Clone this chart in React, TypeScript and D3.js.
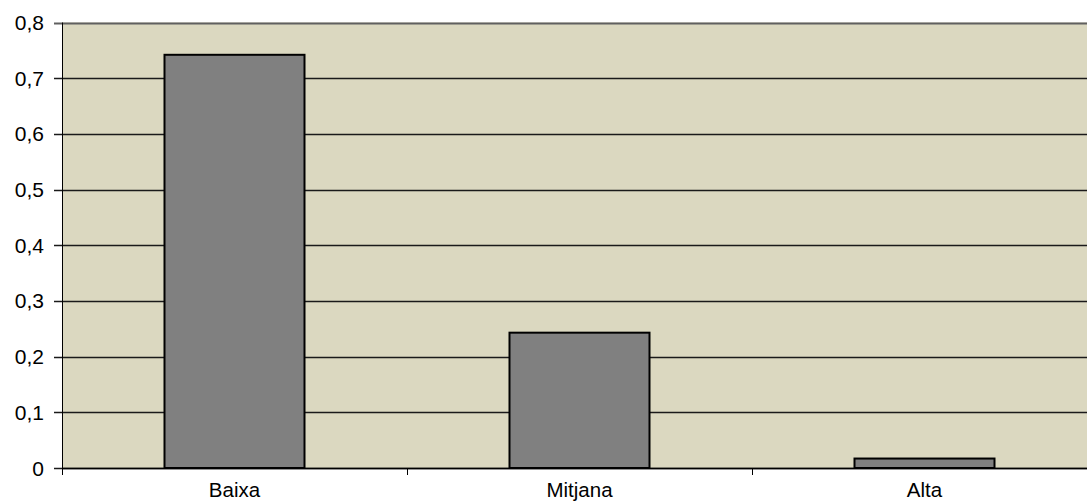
import React from "react";
import * as d3 from "d3";

const categories = ["Baixa", "Mitjana", "Alta"];
const values = [0.742, 0.243, 0.017];
const yTicks = [0, 0.1, 0.2, 0.3, 0.4, 0.5, 0.6, 0.7, 0.8];

export default function App() {
  const W = 1087, H = 503;
  const left = 62, top = 22.5, bottom = 468;
  const bandW = 345;
  const x = d3.scaleBand<string>().domain(categories).range([left, left + bandW * 3]).paddingInner(0).paddingOuter(0);
  const y = d3.scaleLinear().domain([0, 0.8]).range([bottom, top]);
  const barW = 140;
  const fmt = (v: number) => (v === 0 ? "0" : d3.format(".1f")(v).replace(".", ","));
  const font = "'Liberation Sans', Arial, sans-serif";
  return (
    <svg width={W} height={H} style={{ position: "absolute", left: 0, top: 0, background: "#fff" }}>
      <rect x={left} y={top} width={x.range()[1] - left} height={bottom - top} fill="#DBD8C0" />
      {yTicks.map((t) => (
        <g key={t}>
          <line x1={left - 8} x2={x.range()[1]} y1={Math.round(y(t)) + 0.5} y2={Math.round(y(t)) + 0.5}
            stroke={t === 0.8 ? "#606060" : "#1a1a1a"} strokeWidth={t === 0.8 ? 2 : 1.3} />
          <text x={44} y={y(t)} dy="0.36em" textAnchor="end" fontFamily={font} fontSize={21} fill="#000">{fmt(t)}</text>
        </g>
      ))}
      {categories.map((c, i) => {
        const cx = x(c)! + x.bandwidth() / 2;
        return (
          <g key={c}>
            <rect x={cx - barW / 2} y={y(values[i])} width={barW} height={bottom - y(values[i])}
              fill="#808080" stroke="#000" strokeWidth={2} />
            <text x={cx} y={497} textAnchor="middle" fontFamily={font} fontSize={20.5} fill="#000">{c}</text>
          </g>
        );
      })}
      {categories.map((c) => (
        <line key={"t" + c} x1={x(c)! + 0.5} x2={x(c)! + 0.5} y1={bottom} y2={bottom + 7} stroke="#000" strokeWidth={1} />
      ))}
      <line x1={left + 0.5} x2={left + 0.5} y1={top} y2={bottom + 7} stroke="#000" strokeWidth={1} />
      <line x1={left} x2={x.range()[1]} y1={bottom + 0.5} y2={bottom + 0.5} stroke="#000" strokeWidth={1.3} />
    </svg>
  );
}
